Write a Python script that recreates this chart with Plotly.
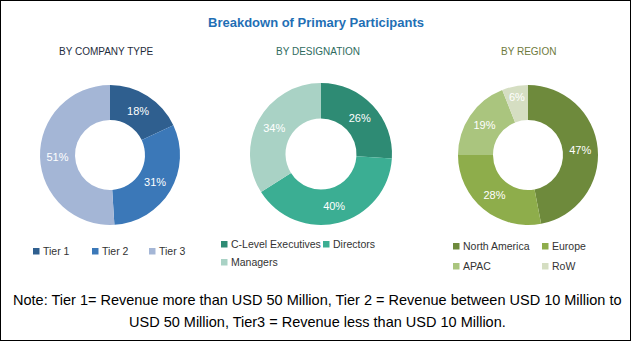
import plotly.graph_objects as go

W, H = 631, 341

company_labels = ["Tier 1", "Tier 2", "Tier 3"]
company_values = [18, 31, 51]
company_colors = ["#2F5F8F", "#3B78B8", "#A4B6D6"]

designation_labels = ["C-Level Executives", "Directors", "Managers"]
designation_values = [26, 40, 34]
designation_colors = ["#2E8B74", "#3BAE93", "#A9D2C5"]

region_labels = ["North America", "Europe", "APAC", "RoW"]
region_values = [47, 28, 19, 6]
region_colors = ["#6E8A3C", "#8EAD4B", "#AAC57E", "#D5DEC2"]

# layout: pie centres/radii and legend entry text positions (pixels)
pie_geom = [(110, 155, 70), (321, 154, 71), (528, 155, 70)]
legend_pos = [
    [(41, 251), (100, 251), (157, 251)],
    [(229, 244), (331, 244), (229, 262)],
    [(461, 246), (550, 246), (461, 266), (550, 266)],
]

def px_dom(cx, cy, r):
    return dict(x=[(cx - r) / W, (cx + r) / W], y=[1 - (cy + r) / H, 1 - (cy - r) / H])

def px(x, y):
    return x / W, 1 - y / H

FONT = "Liberation Sans, Arial"
fig = go.Figure()
shapes = [dict(type="rect", xref="paper", yref="paper", x0=0, y0=0, x1=1, y1=1,
               line=dict(color="black", width=2))]
annotations = []

datasets = [
    (company_labels, company_values, company_colors),
    (designation_labels, designation_values, designation_colors),
    (region_labels, region_values, region_colors),
]
for (labels, values, colors), (cx, cy, r), lpos in zip(datasets, pie_geom, legend_pos):
    fig.add_trace(go.Pie(
        labels=labels, values=values, hole=0.5, sort=False, direction="clockwise",
        rotation=0, marker=dict(colors=colors, line=dict(width=0)),
        texttemplate="%{value}%", textposition="inside", insidetextorientation="horizontal",
        textfont=dict(color="white", size=11, family=FONT),
        domain=px_dom(cx, cy, r), showlegend=False, hoverinfo="label+percent",
    ))
    for lab, col, (tx, ty) in zip(labels, colors, lpos):
        x0, y0 = px(tx - 8, ty + 3.5)
        x1, y1 = px(tx - 1.5, ty - 3)
        shapes.append(dict(type="rect", xref="paper", yref="paper", x0=x0, y0=y0, x1=x1, y1=y1,
                           fillcolor=col, line=dict(width=0)))
        ax, ay = px(tx, ty)
        annotations.append(dict(text=lab, x=ax, y=ay, xref="paper", yref="paper", showarrow=False,
                                xanchor="left", yanchor="middle",
                                font=dict(size=10.5, color="#333333", family=FONT)))

def center_text(text, x, y, size, color, bold=False):
    ax, ay = px(x, y)
    annotations.append(dict(text=f"<b>{text}</b>" if bold else text, x=ax, y=ay, xref="paper", yref="paper",
                            showarrow=False, xanchor="center", yanchor="middle",
                            font=dict(size=size, color=color, family=FONT)))

center_text("Breakdown of Primary Participants", 316, 23, 13, "#1F6FB5", bold=True)
center_text("BY COMPANY TYPE", 106, 52, 10, "#1F2D3D")
center_text("BY DESIGNATION", 318, 52, 10, "#2E6B5E")
center_text("BY REGION", 528, 52, 10, "#6E7A3C")
center_text("Note: Tier 1= Revenue more than USD 50 Million, Tier 2 = Revenue between USD 10 Million to",
            317, 300, 14.5, "black")
center_text("USD 50 Million, Tier3 = Revenue less than USD 10 Million.", 317, 322, 14.5, "black")

fig.update_layout(
    width=W, height=H, margin=dict(l=0, r=0, t=0, b=0),
    paper_bgcolor="white", plot_bgcolor="white",
    shapes=shapes, annotations=annotations,
)
fig.write_html("out.html")
